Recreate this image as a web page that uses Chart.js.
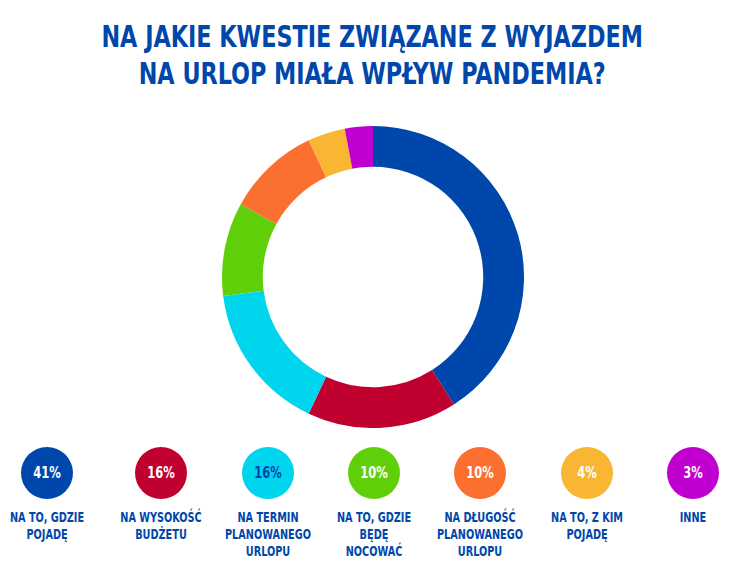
<!DOCTYPE html>
<html>
<head>
<meta charset="utf-8">
<script src="https://cdn.jsdelivr.net/npm/chart.js@4"></script>
<style>
  body { margin: 0; width: 744px; height: 579px; background: #fff; font-family: "DejaVu Sans Condensed", "Liberation Sans Narrow", sans-serif; color: #0047AB; overflow: hidden; }
  h1 { margin: 0; position: absolute; top: 18px; left: 0; width: 744px; text-align: center; font-size: 31px; line-height: 37px; font-weight: bold; transform: scaleX(0.8); transform-origin: 373px 0; }
  #wrap { position: absolute; left: 222px; top: 126px; width: 302px; height: 302px; }
  #legend { position: absolute; top: 447px; left: 0; width: 744px; }
  .item { position: absolute; width: 130px; text-align: center; font-weight: bold; font-size: 13.5px; line-height: 17px; }
  .dot { width: 52px; height: 52px; border-radius: 50%; margin: 0 auto 10px; font-size: 16px; line-height: 52px; }
  .lbl { transform: scaleX(0.8); }
</style>
</head>
<body>
<h1>NA JAKIE KWESTIE ZWIĄZANE Z WYJAZDEM<br>NA URLOP MIAŁA WPŁYW PANDEMIA?</h1>
<div id="wrap"><canvas id="c"></canvas></div>
<div id="legend"></div>
<script>
const categories = ["NA TO, GDZIE POJADĘ", "NA WYSOKOŚĆ BUDŻETU", "NA TERMIN PLANOWANEGO URLOPU", "NA TO, GDZIE BĘDĘ NOCOWAĆ", "NA DŁUGOŚĆ PLANOWANEGO URLOPU", "NA TO, Z KIM POJADĘ", "INNE"];
const labelLines = [["NA TO, GDZIE", "POJADĘ"], ["NA WYSOKOŚĆ", "BUDŻETU"], ["NA TERMIN", "PLANOWANEGO", "URLOPU"], ["NA TO, GDZIE", "BĘDĘ", "NOCOWAĆ"], ["NA DŁUGOŚĆ", "PLANOWANEGO", "URLOPU"], ["NA TO, Z KIM", "POJADĘ"], ["INNE"]];
const values = [41, 16, 16, 10, 10, 4, 3];
const colors = ["#0047AB", "#C0002E", "#00D5EE", "#5FCF0A", "#FB7030", "#F8B633", "#C000D0"];
const centers = [47, 161, 268, 374, 480, 587, 693];

new Chart(document.getElementById('c'), {
    type: 'doughnut',
    data: {
        labels: categories,
        datasets: [{ data: values, backgroundColor: colors, borderWidth: 0 }]
    },
    options: {
        responsive: true,
        maintainAspectRatio: false,
        animation: false,
        cutout: '73%',
        plugins: { legend: { display: false }, tooltip: { enabled: false } }
    }
});

const legend = document.getElementById('legend');
values.forEach((v, i) => {
    const d = document.createElement('div');
    d.className = 'item';
    d.style.left = (centers[i] - 65) + 'px';
    const textColor = i === 2 ? '#0047AB' : '#fff';
    d.innerHTML = '<div class="dot" style="background:' + colors[i] + ';color:' + textColor + '"><div class="lbl">' + v + '%</div></div>' +
        '<div class="lbl">' + labelLines[i].join('<br>') + '</div>';
    legend.appendChild(d);
});
</script>
</body>
</html>
